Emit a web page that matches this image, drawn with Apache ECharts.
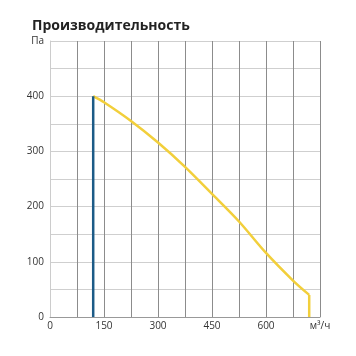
<!DOCTYPE html>
<html><head><meta charset="utf-8">
<script src="https://cdn.jsdelivr.net/npm/echarts@6/dist/echarts.min.js"></script>
<style>html,body{margin:0;padding:0;background:#fff}#c{width:356px;height:356px}</style>
</head><body><div id="c"></div>
<script>
const titleText = 'Производительность';
const flowX = [120, 150, 225, 300, 375, 450, 525, 600, 675, 720];
const pressure = [400, 389, 355, 316, 272, 223, 173, 116, 66, 40];
const dropX = [720, 720];
const dropP = [40, 0];
const limitX = [120, 120];
const limitP = [0, 400];
const xUnit = 'м³/ч';
const yUnit = 'Па';

const chart = echarts.init(document.getElementById('c'));
chart.setOption({
  animation: false,
  title: { text: titleText, left: 27, top: 14,
    textStyle: { fontFamily: 'Open Sans', fontWeight: 'bold', fontSize: 14, color: '#222' } },
  grid: { left: 50, right: 36, top: 41, bottom: 39 },
  xAxis: { type: 'value', min: 0, max: 750, interval: 75,
    axisLine: { lineStyle: { color: '#999', width: 1 } },
    axisTick: { show: false },
    splitLine: { show: true, lineStyle: { color: '#8c8c8c', width: 1 } },
    axisLabel: { margin: 4, fontSize: 10, color: '#333', fontFamily: 'Open Sans',
      formatter: v => v === 750 ? xUnit : (v % 150 === 0 ? String(v) : '') } },
  yAxis: { type: 'value', min: 0, max: 500, interval: 50,
    axisLine: { show: true, lineStyle: { color: '#ccc', width: 1 } },
    axisTick: { show: false },
    splitLine: { show: true, lineStyle: { color: '#cfcfcf', width: 1 } },
    axisLabel: { margin: 6, fontSize: 10, color: '#333', fontFamily: 'Open Sans',
      formatter: v => v === 500 ? yUnit : (v % 100 === 0 ? String(v) : '') } },
  series: [
    { type: 'line', data: flowX.map((x, i) => [x, pressure[i]]), smooth: 0.3, showSymbol: false,
      lineStyle: { color: '#f2cf3b', width: 2.5 } },
    { type: 'line', data: dropX.map((x, i) => [x, dropP[i]]), showSymbol: false,
      lineStyle: { color: '#f2cf3b', width: 2.5 } },
    { type: 'line', data: limitX.map((x, i) => [x, limitP[i]]), showSymbol: false,
      lineStyle: { color: '#1c5b87', width: 2.5 } }
  ]
});
</script></body></html>
